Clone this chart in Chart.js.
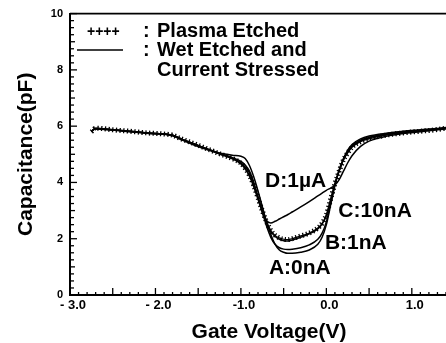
<!DOCTYPE html>
<html>
<head>
<meta charset="utf-8">
<script src="https://cdn.jsdelivr.net/npm/chart.js@4.4.1/dist/chart.umd.min.js"></script>
<style>
html,body{margin:0;padding:0;background:#fff;}
#wrap{width:446px;height:343px;}
</style>
</head>
<body>
<div id="wrap"><canvas id="c" width="446" height="343"></canvas></div>
<script>
// ---- data ----
const voltages = [-2.75,-2.7,-2.5,-2.3,-2.1,-1.9,-1.8,-1.7,-1.55,-1.4,-1.25,-1.1,-1.0,-0.95,-0.9,-0.85,-0.8,-0.75,-0.7,-0.65,-0.6,-0.55,-0.5,-0.45,-0.4,-0.3,-0.2,-0.1,-0.05,0.0,0.05,0.1,0.15,0.2,0.25,0.3,0.4,0.5,0.7,0.9,1.1,1.3,1.4];
const plasmaEtched = [5.80,5.93,5.87,5.82,5.76,5.72,5.68,5.55,5.38,5.20,5.02,4.85,4.68,4.50,4.25,3.90,3.45,3.00,2.60,2.30,2.12,2.03,1.98,1.97,2.00,2.10,2.20,2.38,2.55,2.85,3.40,3.95,4.40,4.80,5.05,5.25,5.45,5.55,5.68,5.76,5.82,5.88,5.93];
const wetA_0nA = [5.82,5.90,5.86,5.80,5.75,5.72,5.66,5.52,5.33,5.17,5.05,4.97,4.93,4.85,4.60,4.20,3.70,3.15,2.60,2.15,1.80,1.60,1.52,1.48,1.48,1.52,1.60,1.80,2.05,2.50,3.20,3.90,4.45,4.85,5.15,5.35,5.55,5.65,5.75,5.82,5.87,5.92,5.95];
const wetB_1nA = [5.82,5.91,5.86,5.81,5.75,5.71,5.67,5.54,5.36,5.19,5.02,4.86,4.70,4.55,4.35,3.95,3.45,2.95,2.45,2.05,1.80,1.68,1.63,1.62,1.63,1.68,1.78,1.98,2.20,2.60,3.25,3.90,4.42,4.82,5.10,5.30,5.50,5.60,5.72,5.80,5.85,5.90,5.93];
const wetC_10nA = [5.82,5.92,5.87,5.82,5.76,5.72,5.68,5.55,5.37,5.19,5.01,4.84,4.66,4.48,4.22,3.85,3.40,2.95,2.55,2.25,2.08,1.98,1.93,1.92,1.95,2.05,2.17,2.35,2.52,2.82,3.38,3.95,4.42,4.82,5.08,5.28,5.48,5.58,5.70,5.78,5.84,5.90,5.94];
const wetD_1uA = [5.82,5.92,5.87,5.82,5.76,5.72,5.68,5.55,5.37,5.20,5.03,4.88,4.75,4.62,4.40,4.00,3.50,3.00,2.65,2.56,2.62,2.70,2.78,2.86,2.95,3.13,3.32,3.52,3.62,3.72,3.80,3.90,4.10,4.40,4.70,4.95,5.28,5.47,5.64,5.74,5.80,5.87,5.90];
const xTickValues = [-3,-2,-1,0,1];
const xTickLabels = ['- 3.0','- 2.0','-1.0','0.0','1.0'];
const yTickValues = [0,2,4,6,8,10];
const yTickLabels = ['0','2','4','6','8','10'];
const curveLabels = [
  {text:'D:1\u00b5A', v:-0.36, c:4.06},
  {text:'C:10nA', v:0.57, c:2.97},
  {text:'B:1nA', v:0.345, c:1.84},
  {text:'A:0nA', v:-0.31, c:0.95}
];
const legendItems = ['Plasma Etched','Wet Etched and','Current Stressed'];

const FONT = '"Liberation Sans", Arial, Helvetica, sans-serif';
const pts = arr => voltages.map((v,i)=>({x:v,y:arr[i]}));
const solid = (label, arr) => ({label, data:pts(arr), borderColor:'#000', borderWidth:1.5, pointRadius:0, fill:false, cubicInterpolationMode:'monotone'});

const decor = {
  id:'decor',
  afterDraw(chart){
    const ctx = chart.ctx, xs = chart.scales.x, ys = chart.scales.y, a = chart.chartArea;
    ctx.save();
    ctx.strokeStyle = '#000'; ctx.fillStyle = '#000';
    // top frame
    ctx.lineWidth = 1.8;
    ctx.beginPath(); ctx.moveTo(a.left, a.top); ctx.lineTo(a.right, a.top); ctx.stroke();
    // inward ticks x
    ctx.lineWidth = 1.3;
    for (let i = -30; i <= 14; i++) {
      const px = xs.getPixelForValue(i/10);
      const len = (i % 5 === 0) ? 7 : 3;
      ctx.beginPath(); ctx.moveTo(px, a.bottom); ctx.lineTo(px, a.bottom - len); ctx.stroke();
    }
    // inward ticks y
    for (let j = 0; j <= 40; j++) {
      const py = ys.getPixelForValue(j/4);
      const len = (j % 8 === 0) ? 7 : (j % 4 === 0 ? 5 : 4);
      ctx.beginPath(); ctx.moveTo(a.left, py); ctx.lineTo(a.left + len, py); ctx.stroke();
    }
    // legend
    ctx.textBaseline = 'middle';
    ctx.textAlign = 'left';
    ctx.font = 'bold 14px ' + FONT;
    ctx.fillText('++++', a.left + 17, 32);
    ctx.lineWidth = 1.5;
    ctx.beginPath(); ctx.moveTo(a.left + 7, 50); ctx.lineTo(a.left + 53, 50); ctx.stroke();
    ctx.font = 'bold 20px ' + FONT;
    ctx.fillText(':', a.left + 73, 31);
    ctx.fillText(':', a.left + 73, 50);
    ctx.fillText(legendItems[0], a.left + 87, 31);
    ctx.fillText(legendItems[1], a.left + 87, 50);
    ctx.fillText(legendItems[2], a.left + 87, 70);
    // curve labels
    ctx.textAlign = 'center';
    ctx.font = 'bold 21px ' + FONT;
    curveLabels.forEach(l => ctx.fillText(l.text, xs.getPixelForValue(l.v), ys.getPixelForValue(l.c)));
    // x title
    ctx.font = 'bold 21px ' + FONT;
    ctx.fillText('Gate Voltage(V)', 269, 332);
    ctx.restore();
  }
};

new Chart(document.getElementById('c'), {
  type:'line',
  data:{datasets:[
    {label:'Plasma Etched', data:pts(plasmaEtched), borderColor:'#000', borderWidth:1.2, pointRadius:0, cubicInterpolationMode:'monotone'},
    {label:'Plasma Etched marks', data:pts(plasmaEtched), borderColor:'#000', borderWidth:5, borderDash:[1.3,2.4], pointRadius:0, cubicInterpolationMode:'monotone'},
    solid('A:0nA', wetA_0nA),
    solid('B:1nA', wetB_1nA),
    solid('C:10nA', wetC_10nA),
    solid('D:1uA', wetD_1uA)
  ]},
  options:{
    responsive:false, animation:false, devicePixelRatio:1,
    layout:{padding:{top:12,right:0,left:0,bottom:0}},
    plugins:{legend:{display:false}, tooltip:{enabled:false}},
    scales:{
      x:{type:'linear', min:-3, max:1.4,
        afterFit: s => { s.height = 48; },
        afterBuildTicks: s => { s.ticks = xTickValues.map(v => ({value:v})); },
        grid:{display:false, drawTicks:false},
        border:{display:true, color:'#000', width:2},
        ticks:{callback:(v,i)=>xTickLabels[i], color:'#000', font:{family:FONT, size:13, weight:'bold'}, padding:3, maxRotation:0, autoSkip:false, labelOffset:3}
      },
      y:{min:0, max:10,
        afterFit: s => { s.width = 70; },
        afterBuildTicks: s => { s.ticks = yTickValues.map(v => ({value:v})); },
        grid:{display:false, drawTicks:false},
        border:{display:true, color:'#000', width:2},
        ticks:{callback:(v,i)=>yTickLabels[i], color:'#000', font:{family:FONT, size:11, weight:'bold'}, padding:7},
        title:{display:true, text:'Capacitance(pF)', color:'#000', font:{family:FONT, size:21, weight:'bold'}, padding:{top:14,bottom:0}}
      }
    }
  },
  plugins:[decor]
});
</script>
</body>
</html>
